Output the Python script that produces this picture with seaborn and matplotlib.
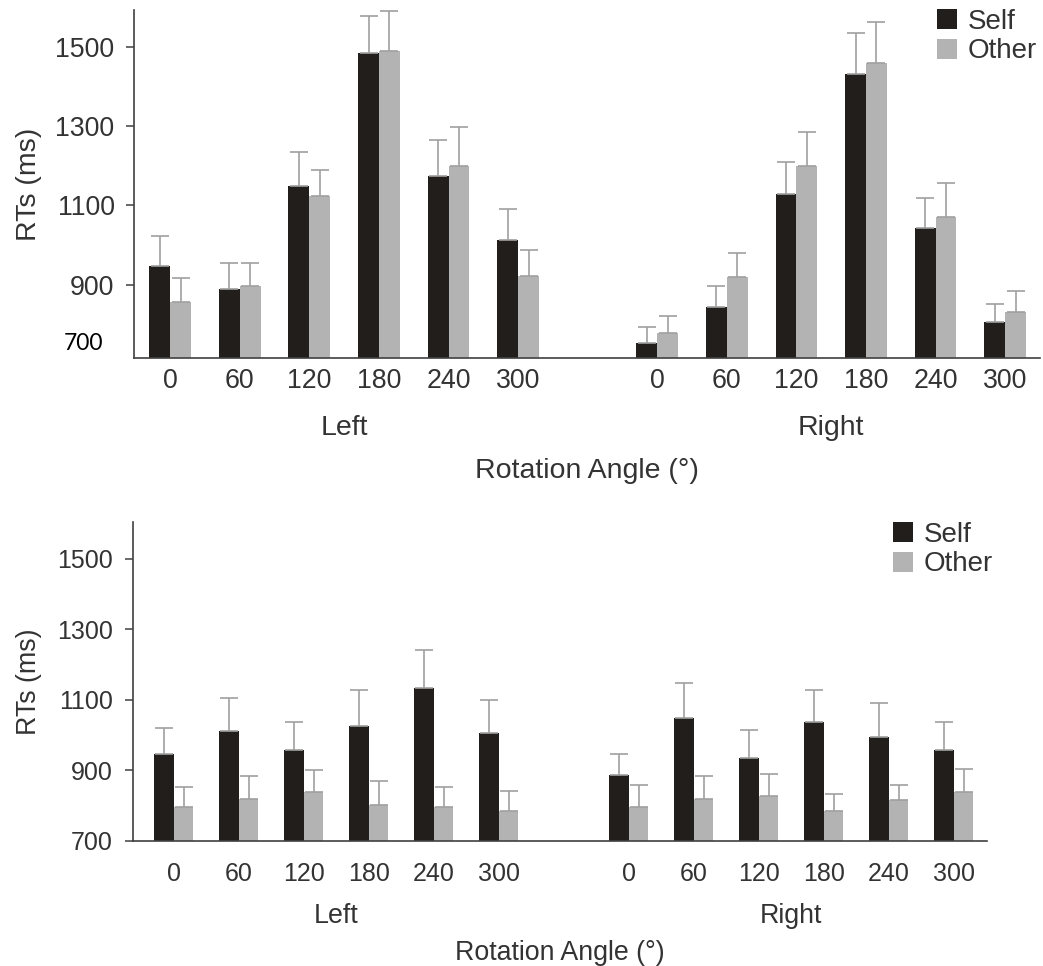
import numpy as np
import pandas as pd
import matplotlib
matplotlib.use("Agg")
import matplotlib.pyplot as plt
import seaborn as sns

# =====================================================
# DATA
# =====================================================

angles = ["0", "60", "120", "180", "240", "300"]
sides = ["Left", "Right"]
conditions = ["Self", "Other"]

# top panel means and SE (upper bar only)
top_self_left = [948, 890, 1148, 1485, 1174, 1014]
top_other_left = [857, 897, 1123, 1490, 1199, 923]
top_self_right = [753, 844, 1130, 1432, 1044, 806]
top_other_right = [779, 920, 1199, 1459, 1070, 832]

top_self_left_err = [74, 66, 86, 93, 91, 78]
top_other_left_err = [61, 59, 66, 99, 99, 66]
top_self_right_err = [41, 54, 79, 101, 74, 46]
top_other_right_err = [42, 61, 86, 104, 86, 53]

# bottom panel means and SE
bot_self_left = [947, 1013, 959, 1026, 1133, 1007]
bot_other_left = [797, 820, 839, 803, 797, 785]
bot_self_right = [888, 1048, 935, 1037, 996, 959]
bot_other_right = [797, 820, 827, 785, 815, 839]

bot_self_left_err = [73, 91, 79, 101, 109, 92]
bot_other_left_err = [56, 63, 61, 67, 56, 56]
bot_self_right_err = [59, 99, 79, 90, 96, 78]
bot_other_right_err = [61, 63, 62, 49, 43, 66]

# =====================================================
# STYLE
# =====================================================

sns.set_style("white")
plt.rcParams["font.family"] = ["Liberation Sans", "DejaVu Sans"]

SELF_C = "#221e1b"
OTHER_C = "#b3b3b3"
ERR_C = "#a0a0a0"
TEXT_C = "#333333"
SPINE_C = "#404040"

# one empty slot between the Left and Right groups
order = [f"Left {a}" for a in angles] + ["gap"] + [f"Right {a}" for a in angles]


def make_df(self_l, other_l, self_r, other_r, e_sl, e_ol, e_sr, e_or):
    rows = []
    for i, a in enumerate(angles):
        rows.append([f"Left {a}", "Self", self_l[i], e_sl[i]])
        rows.append([f"Left {a}", "Other", other_l[i], e_ol[i]])
        rows.append([f"Right {a}", "Self", self_r[i], e_sr[i]])
        rows.append([f"Right {a}", "Other", other_r[i], e_or[i]])
    return pd.DataFrame(rows, columns=["slot", "cond", "rt", "err"])


top_df = make_df(top_self_left, top_other_left, top_self_right, top_other_right,
                 top_self_left_err, top_other_left_err,
                 top_self_right_err, top_other_right_err)

bot_df = make_df(bot_self_left, bot_other_left, bot_self_right, bot_other_right,
                 bot_self_left_err, bot_other_left_err,
                 bot_self_right_err, bot_other_right_err)


def draw_panel(ax, df, ylim, yticks, xlim, tick_fs, label_fs, legend_fs,
               xpad, ypad, group_y, xlabel_y, ylabel_x, legend_anchor):

    sns.barplot(
        data=df,
        x="slot",
        y="rt",
        hue="cond",
        order=order,
        hue_order=conditions,
        palette={"Self": SELF_C, "Other": OTHER_C},
        saturation=1,
        width=0.6,
        errorbar=None,
        linewidth=0,
        ax=ax
    )

    # upper error bars, placed on the drawn bars
    errs = {(order.index(r.slot), r.cond): r.err for r in df.itertuples()}
    for p in ax.patches:
        h = p.get_height()
        if not h:
            continue
        cx = p.get_x() + p.get_width() / 2
        slot = int(round(cx))
        cond = "Self" if cx < slot else "Other"
        ax.errorbar(
            cx, h,
            yerr=[[0], [errs[(slot, cond)]]],
            fmt="none",
            ecolor=ERR_C,
            elinewidth=1.2,
            capsize=6.5,
            capthick=1.2,
            zorder=1
        )

    ax.set_ylim(*ylim)
    ax.set_xlim(*xlim)
    ax.set_yticks(yticks)
    ax.set_yticklabels([str(t) for t in yticks])

    ticks = [i for i, s in enumerate(order) if s != "gap"]
    ax.set_xticks(ticks)
    ax.set_xticklabels(angles + angles)

    ax.tick_params(axis="x", length=0, pad=xpad, labelsize=tick_fs, colors=TEXT_C)
    ax.tick_params(axis="y", length=6, width=1.1, pad=ypad, labelsize=tick_fs,
                   colors=SPINE_C, labelcolor=TEXT_C, left=True)

    sns.despine(ax=ax)
    for s in ["left", "bottom"]:
        ax.spines[s].set_color(SPINE_C)
        ax.spines[s].set_linewidth(1.2)

    # group labels
    for side in sides:
        idx = [i for i, s in enumerate(order) if s.startswith(side)]
        ax.text(
            np.mean(idx), group_y, side,
            transform=ax.get_xaxis_transform(),
            ha="center", va="center",
            fontsize=label_fs, color=TEXT_C
        )

    ax.set_xlabel("Rotation Angle (°)", fontsize=label_fs, color=TEXT_C)
    ax.xaxis.set_label_coords(0.5, xlabel_y)
    ax.xaxis.label.set_va("center")

    ax.set_ylabel("RTs (ms)", fontsize=label_fs, color=TEXT_C)
    ax.yaxis.set_label_coords(ylabel_x, 0.5)

    handles, labels = ax.get_legend_handles_labels()
    ax.legend(
        handles, labels,
        loc="upper left",
        bbox_to_anchor=legend_anchor,
        bbox_transform=ax.figure.transFigure,
        frameon=False,
        fontsize=legend_fs,
        handlelength=0.72,
        handleheight=0.72,
        handletextpad=0.4,
        labelspacing=0.12,
        borderpad=0,
        borderaxespad=0,
        labelcolor=TEXT_C
    )


# =====================================================
# FIGURE
# =====================================================

W, H = 1043, 966
fig = plt.figure(figsize=(W / 100, H / 100), dpi=100)

ax_top = fig.add_axes([134 / W, 1 - 358 / H, 906 / W, 348 / H])
ax_bot = fig.add_axes([133 / W, 1 - 841 / H, 854 / W, 319.3 / H])

draw_panel(
    ax_top, top_df,
    ylim=(716, 1592),
    yticks=[900, 1100, 1300, 1500],
    xlim=(-0.52, 12.5),
    tick_fs=19.3, label_fs=20.5, legend_fs=20,
    xpad=7, ypad=8,
    group_y=-0.2, xlabel_y=-0.324, ylabel_x=-0.1015,
    legend_anchor=(937 / W, 1 - 9 / H)
)

draw_panel(
    ax_bot, bot_df,
    ylim=(700, 1605),
    yticks=[700, 900, 1100, 1300, 1500],
    xlim=(-0.63, 12.51),
    tick_fs=18, label_fs=19.3, legend_fs=20,
    xpad=15, ypad=8.5,
    group_y=-0.234, xlabel_y=-0.35, ylabel_x=-0.1066,
    legend_anchor=(893 / W, 1 - 522 / H)
)

# the pasted-in "700" label of the top panel
fig.text(
    103 / W, 1 - 344 / H, "700",
    ha="right", va="center",
    fontsize=16.5, family="Lato", color="black"
)

plt.savefig("out.png", dpi=100)
